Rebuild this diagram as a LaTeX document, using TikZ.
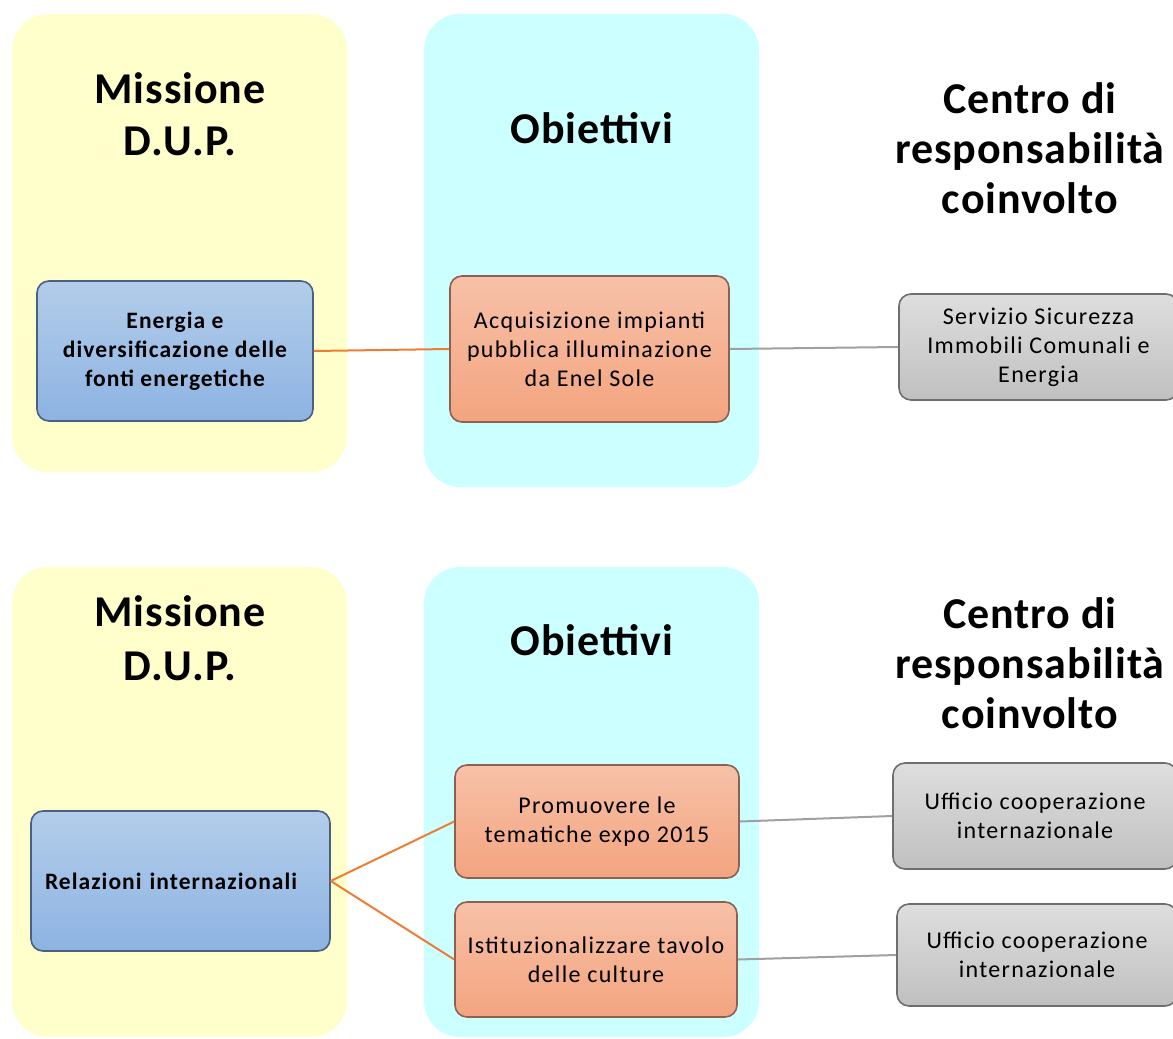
\documentclass[tikz,border=0pt]{standalone}
\usepackage{fontspec}
\setmainfont{Carlito}
\definecolor{yelbg}{HTML}{FFFFCC}
\definecolor{cyanbg}{HTML}{CCFFFF}
\definecolor{bluetop}{HTML}{B3CDEA}
\definecolor{bluebot}{HTML}{8DB3E2}
\definecolor{blueedge}{HTML}{4A6080}
\definecolor{ortop}{HTML}{F7C1A8}
\definecolor{orbot}{HTML}{F3A47F}
\definecolor{oredge}{HTML}{8C6152}
\definecolor{grtop}{HTML}{DEDEDE}
\definecolor{grbot}{HTML}{C0C0C0}
\definecolor{gredge}{HTML}{6E6E6E}
\definecolor{orline}{HTML}{EE7D33}
\definecolor{grline}{HTML}{A0A0A0}
\begin{document}
\begin{tikzpicture}[x=1pt,y=-1pt,
  panel/.style={rounded corners=36pt},
  head/.style={align=center,font=\fontsize{44}{52}\selectfont\bfseries\addfontfeature{LetterSpace=2}},
  boxbase/.style={rounded corners=12pt,line width=1.6pt,align=center,inner sep=4pt,
    font=\fontsize{24}{29}\selectfont\addfontfeature{LetterSpace=5.5}},
  bluebox/.style={boxbase,draw=blueedge,top color=bluetop,bottom color=bluebot,font=\fontsize{23.5}{29}\selectfont\bfseries\addfontfeature{LetterSpace=4.5}},
  orbox/.style={boxbase,draw=oredge,top color=ortop,bottom color=orbot},
  grbox/.style={boxbase,draw=gredge,top color=grtop,bottom color=grbot},
  orconn/.style={draw=orline,line width=2pt},
  grconn/.style={draw=grline,line width=2pt}
]
\useasboundingbox (0,0) rectangle (1173,1039);
\clip (0,0) rectangle (1173,1039);
% panels
\fill[yelbg,panel] (12,14) rectangle (347,472);
\fill[cyanbg,panel] (424,14) rectangle (759,487);
\fill[yelbg,panel] (12,567) rectangle (347,1037);
\fill[cyanbg,panel] (424,567) rectangle (759,1037);
% headings top
\node[head] (m1) at (180,114) {Missione\\D.U.P.};
\node[head] (o1) at (592,128) {Obiettivi};
\node[head,font=\fontsize{44}{50}\selectfont\bfseries\addfontfeature{LetterSpace=2}] (c1) at (1030,148) {Centro di\\responsabilità\\coinvolto};
% headings bottom
\node[head,font=\fontsize{44}{54}\selectfont\bfseries\addfontfeature{LetterSpace=2}] (m2) at (180,638) {Missione\\D.U.P.};
\node[head] (o2) at (592,640) {Obiettivi};
\node[head,font=\fontsize{44}{50}\selectfont\bfseries\addfontfeature{LetterSpace=2}] (c2) at (1030,663) {Centro di\\responsabilità\\coinvolto};
% top row
\node[bluebox,minimum width=276pt,minimum height=140pt] (b1) at (175,351) {Energia e\\diversificazione delle\\fonti energetiche};
\node[orbox,minimum width=279pt,minimum height=146pt] (r1) at (589.5,349) {Acquisizione impianti\\pubblica illuminazione\\da Enel Sole};
\node[grbox,minimum width=279pt,minimum height=106pt] (g1) at (1038.5,347) {Servizio Sicurezza\\Immobili Comunali e\\Energia};
\draw[orconn] (b1.east) -- (r1.west);
\draw[grconn] (r1.east) -- (g1.west);
% bottom row
\node[bluebox,minimum width=299pt,minimum height=140pt,text width=271pt,align=left,inner xsep=14pt] (b2) at (180.5,881) {Relazioni internazionali};
\node[orbox,minimum width=284pt,minimum height=113pt] (r2) at (597,821.5) {Promuovere le\\tematiche expo 2015};
\node[orbox,minimum width=282pt,minimum height=115pt] (r3) at (596,959.5) {Istituzionalizzare tavolo\\delle culture};
\node[grbox,minimum width=284pt,minimum height=106pt] (g2) at (1035,816) {Ufficio cooperazione\\internazionale};
\node[grbox,minimum width=280pt,minimum height=102pt] (g3) at (1037,955) {Ufficio cooperazione\\internazionale};
\draw[orconn] (b2.east) -- (r2.west);
\draw[orconn] (b2.east) -- (r3.west);
\draw[grconn] (r2.east) -- (g2.west);
\draw[grconn] (r3.east) -- (g3.west);
\end{tikzpicture}
\end{document}
